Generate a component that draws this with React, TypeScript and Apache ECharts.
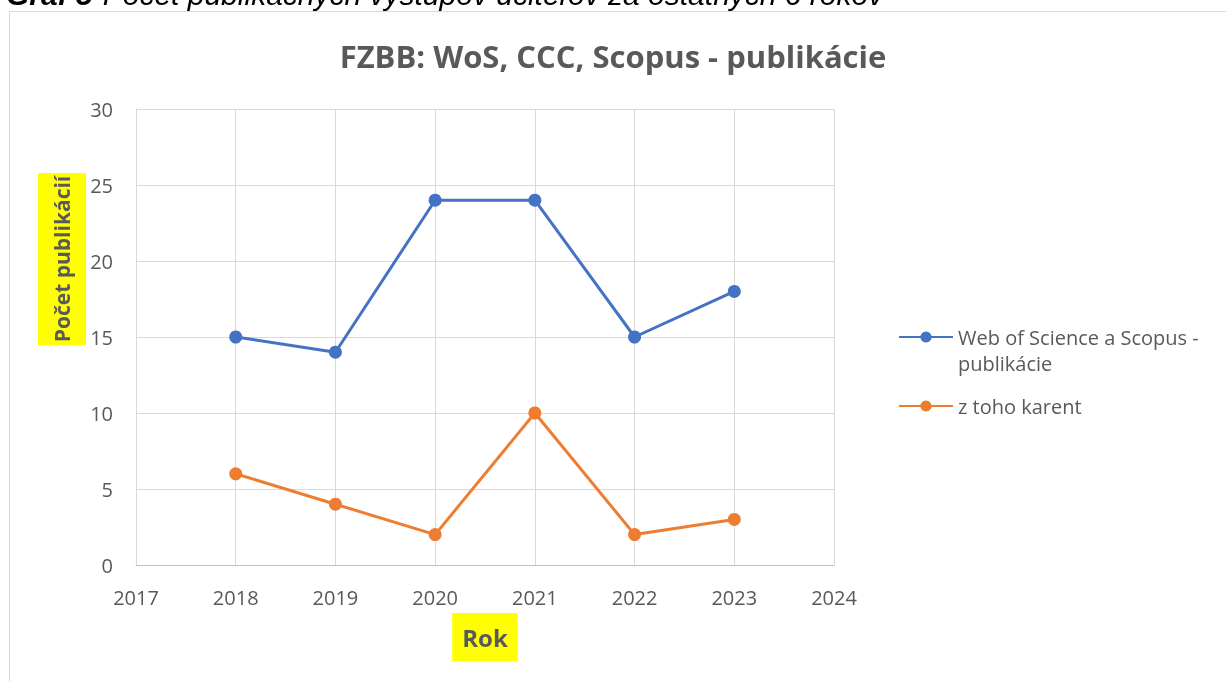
import React, { useEffect, useRef } from "react";
import * as echarts from "echarts";

const years = [2018, 2019, 2020, 2021, 2022, 2023];
const wosScopus = [15, 14, 24, 24, 15, 18];
const karent = [6, 4, 2, 10, 2, 3];
const seriesNames = ["Web of Science a Scopus - publikácie", "z toho karent"];
const chartTitle = "FZBB: WoS, CCC, Scopus - publikácie";
const yTitle = "Počet publikácií";
const xTitle = "Rok";
const caption = "Počet publikačných výstupov učiteľov za ostatných 6 rokov";

const FONT = "'Open Sans', sans-serif";
const GRAY = "#595959";

export default function App() {
  const ref = useRef<HTMLDivElement>(null);
  useEffect(() => {
    if (!ref.current) return;
    const chart = echarts.init(ref.current, undefined, { renderer: "svg" });
    chart.setOption({
      animation: false,
      textStyle: { fontFamily: FONT },
      title: {
        text: chartTitle,
        left: "center",
        top: 35,
        textStyle: { fontFamily: FONT, fontSize: 31, fontWeight: "bold", color: GRAY },
      },
      grid: { left: 136, right: 392, top: 109, bottom: 116 },
      xAxis: {
        type: "value",
        min: 2017,
        max: 2024,
        interval: 1,
        name: xTitle,
        nameLocation: "middle",
        nameGap: 48,
        nameTextStyle: {
          fontFamily: FONT,
          fontSize: 24,
          fontWeight: "bold",
          color: GRAY,
          backgroundColor: "#ffff00",
          lineHeight: 36,
          padding: [6, 10, 6, 10],
        },
        axisLine: { show: true, lineStyle: { color: "#bfbfbf", width: 1 } },
        axisTick: { show: false },
        splitLine: { show: true, lineStyle: { color: "#d9d9d9", width: 1 } },
        axisLabel: { color: GRAY, fontSize: 20, margin: 22, formatter: (v: number) => String(v) },
      },
      yAxis: {
        type: "value",
        min: 0,
        max: 30,
        interval: 5,
        axisLine: { show: true, lineStyle: { color: "#d9d9d9", width: 1 } },
        axisTick: { show: false },
        splitLine: { show: true, lineStyle: { color: "#d9d9d9", width: 1 } },
        axisLabel: { color: GRAY, fontSize: 20, margin: 23 },
      },
      legend: [
        {
          left: 898,
          top: 298,
          padding: 0,
          orient: "vertical",
          itemWidth: 54,
          itemHeight: 14,
          data: [seriesNames[0]],
          formatter: () => " \nWeb of Science a Scopus -\npublikácie",
          textStyle: { color: GRAY, fontSize: 20, lineHeight: 26 },
        },
        {
          left: 898,
          top: 393,
          padding: 0,
          orient: "vertical",
          itemWidth: 54,
          itemHeight: 14,
          data: [seriesNames[1]],
          textStyle: { color: GRAY, fontSize: 20, lineHeight: 26 },
        },
      ],
      graphic: [
        {
          type: "rect",
          silent: true,
          shape: { x: 9.5, y: 11.5, width: 1400, height: 800 },
          style: { fill: "none", stroke: "#d9d9d9", lineWidth: 1 },
        },
        {
          type: "text",
          x: 6,
          y: 9,
          silent: true,
          style: {
            text: "{b|Graf 5}{s|}{i|" + caption + "}",
            verticalAlign: "bottom",
            rich: {
              b: { fontFamily: "'Liberation Sans', Arial, sans-serif", fontSize: 30, lineHeight: 30, fontWeight: "bold", fontStyle: "italic", fill: "#000" },
              s: { width: 10, height: 30 },
              i: { fontFamily: "'Liberation Sans', Arial, sans-serif", fontSize: 30, lineHeight: 30, fontStyle: "italic", fill: "#000" },
            },
          },
        },
        {
          type: "group",
          x: 62,
          y: 259,
          rotation: Math.PI / 2,
          children: [
            {
              type: "rect",
              shape: { x: -86, y: -24, width: 172, height: 48 },
              style: { fill: "#ffff00" },
            },
            {
              type: "text",
              style: {
                text: yTitle,
                fontFamily: FONT,
                fontSize: 21,
                fontWeight: "bold",
                fill: GRAY,
                align: "center",
                verticalAlign: "middle",
              },
            },
          ],
        },
      ],
      series: [
        {
          name: seriesNames[0],
          type: "line",
          data: years.map((y, i) => [y, wosScopus[i]]),
          symbol: "circle",
          symbolSize: 13,
          lineStyle: { color: "#4472C4", width: 3 },
          itemStyle: { color: "#4472C4" },
        },
        {
          name: seriesNames[1],
          type: "line",
          data: years.map((y, i) => [y, karent[i]]),
          symbol: "circle",
          symbolSize: 13,
          lineStyle: { color: "#ED7D31", width: 3 },
          itemStyle: { color: "#ED7D31" },
        },
      ],
    });
    return () => chart.dispose();
  }, []);
  return <div ref={ref} style={{ position: "fixed", left: 0, top: 0, width: 1226, height: 681 }} />;
}
